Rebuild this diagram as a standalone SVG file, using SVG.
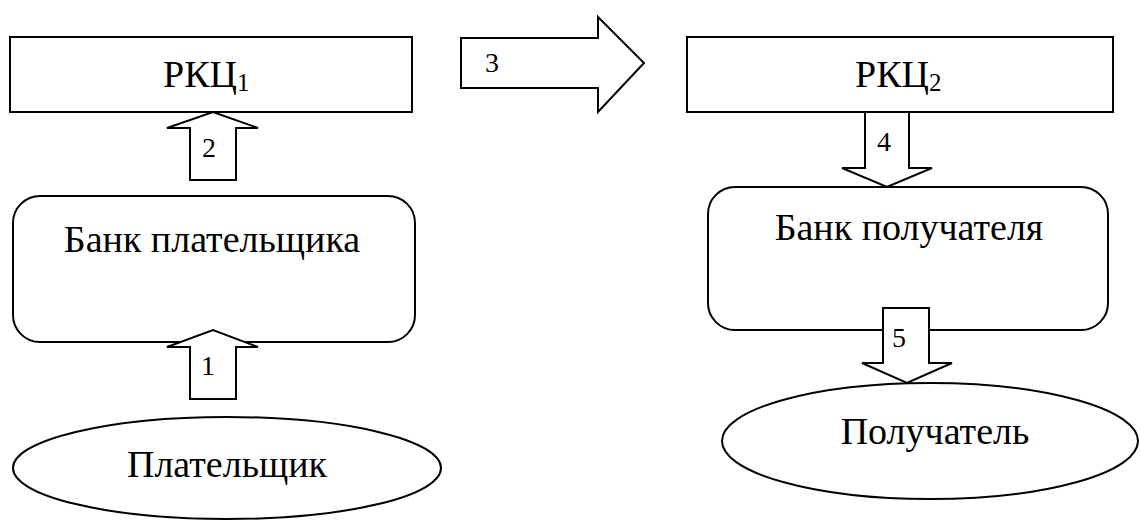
<svg xmlns="http://www.w3.org/2000/svg" width="1141" height="521" viewBox="0 0 1141 521">
<style>
.s{fill:#fff;stroke:#000;stroke-width:2}
text{font-family:"Liberation Serif","Times New Roman",serif;fill:#000}
.t{font-size:38px;text-anchor:middle}
.r{font-size:38px}
.d{font-size:28px;text-anchor:middle}
.sub{font-size:25px}
</style>
<rect width="1141" height="521" fill="#fff"/>
<g id="rkc1"><rect class="s" x="10" y="37" width="402" height="75"/><text class="r" x="163" y="87">РКЦ<tspan class="sub" dy="4">1</tspan></text></g>
<g id="rkc2"><rect class="s" x="687" y="37" width="426" height="75"/><text class="r" x="855" y="87">РКЦ<tspan class="sub" dy="4">2</tspan></text></g>
<g id="bank1"><rect class="s" x="13" y="196" width="402" height="146" rx="27"/><text class="t" x="212" y="252">Банк плательщика</text></g>
<g id="bank2"><rect class="s" x="708" y="187" width="400" height="143" rx="27"/><text class="t" x="909" y="240">Банк получателя</text></g>
<g id="payer"><ellipse class="s" cx="227" cy="468" rx="214" ry="51"/><text class="t" x="227" y="477">Плательщик</text></g>
<g id="receiver"><ellipse class="s" cx="930" cy="441" rx="208" ry="58"/><text class="t" x="935" y="444">Получатель</text></g>
<g id="connectors">
<polygon class="s" points="190,399 190,347 167,347 213,330 258,347 236,347 236,399"/><text class="d" x="208" y="375">1</text>
<polygon class="s" points="190,180 190,128 167,128 213,112 258,128 236,128 236,180"/><text class="d" x="209" y="157">2</text>
<polygon class="s" points="461,38 598,38 598,17 644,63 598,112 598,88 461,88"/><text class="d" x="492" y="72">3</text>
<polygon class="s" points="865,112 909,112 909,168 932,168 887,187 842,168 865,168"/><text class="d" x="884" y="151">4</text>
<polygon class="s" points="883,308 929,308 929,363 952,363 907,383 862,363 883,363"/><text class="d" x="899" y="347">5</text>
</g>
</svg>
